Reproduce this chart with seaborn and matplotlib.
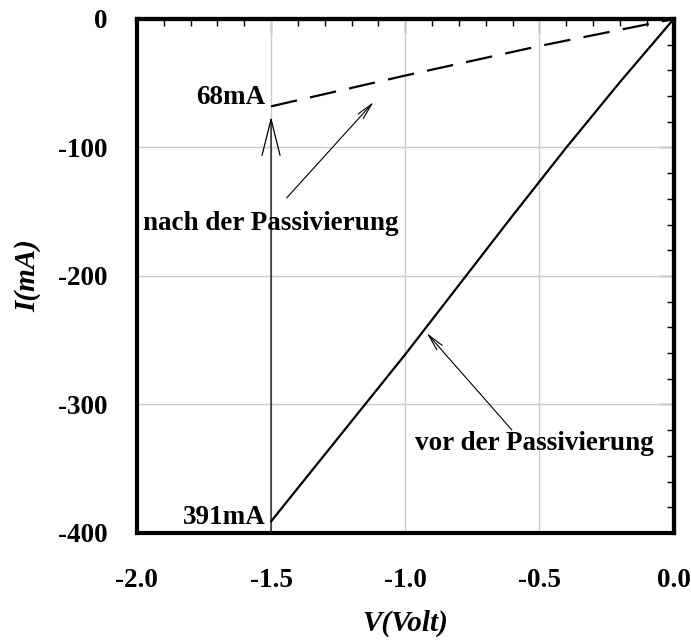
import numpy as np
import pandas as pd
import matplotlib
matplotlib.use("Agg")
import matplotlib.pyplot as plt
from matplotlib.ticker import MultipleLocator, NullFormatter
import seaborn as sns

# I-V curves before / after passivation
v_vor = [-1.5, -1.2, -1.0, -0.8, -0.6, -0.4, -0.2, 0.0]
i_vor = [-391, -313, -261, -207, -153, -100, -49, 0]
v_nach = [-1.5, -1.0, -0.5, 0.0]
i_nach = [-68, -44, -21, 0]

x_ticks = [-2.0, -1.5, -1.0, -0.5, 0.0]
y_ticks = [0, -100, -200, -300, -400]

df = pd.concat([
    pd.DataFrame({"V": v_vor, "I": i_vor, "Zustand": "vor"}),
    pd.DataFrame({"V": v_nach, "I": i_nach, "Zustand": "nach"}),
])

sns.set_style("white")
plt.rcParams['font.family'] = ['Liberation Serif', 'DejaVu Serif']
plt.rcParams['font.weight'] = 'bold'
plt.rcParams['text.color'] = 'black'
plt.rcParams['axes.labelcolor'] = 'black'
plt.rcParams['xtick.labelcolor'] = 'black'
plt.rcParams['ytick.labelcolor'] = 'black'

fig = plt.figure(figsize=(6.91, 6.44), dpi=100)
ax = fig.add_axes([0.198, 0.1724, 0.777, 0.7981])

sns.lineplot(data=df, x="V", y="I", hue="Zustand", style="Zustand",
             palette={"vor": "black", "nach": "black"},
             dashes={"vor": "", "nach": (12, 6)},
             linewidth=1.6, legend=False, ax=ax, sort=False)

ax.set_xlim(-2.0, 0.0)
ax.set_ylim(-400, 0)
ax.set_xticks(x_ticks)
ax.set_yticks(y_ticks)
ax.set_xticklabels([f"{t:.1f}" for t in x_ticks])
ax.set_yticklabels([str(t) for t in y_ticks])
ax.xaxis.set_minor_locator(MultipleLocator(0.1))
ax.yaxis.set_minor_locator(MultipleLocator(20))

ax.grid(True, which='major', color='#cccccc', linewidth=1)
for s in ax.spines.values():
    s.set_linewidth(3)
    s.set_color('black')

ax.tick_params(which='major', direction='inout', length=20, width=1,
               color='#555555', labelsize=19.5, labelcolor='black')
ax.tick_params(axis='x', which='major', pad=15)
ax.tick_params(axis='y', which='major', pad=11)
ax.tick_params(which='minor', direction='in', length=5, width=1, color='black')
for lab in ax.get_xticklabels() + ax.get_yticklabels():
    lab.set_fontweight('bold')

# inward-only ticks on top and right
top = ax.secondary_xaxis('top')
top.set_xticks(x_ticks)
top.xaxis.set_minor_locator(MultipleLocator(0.1))
top.xaxis.set_major_formatter(NullFormatter())
top.tick_params(which='major', direction='in', length=10, width=1, color='#555555')
top.tick_params(which='minor', direction='in', length=5, width=1, color='black')
top.spines['top'].set_linewidth(3)

right = ax.secondary_yaxis('right')
right.set_yticks(y_ticks)
right.yaxis.set_minor_locator(MultipleLocator(20))
right.yaxis.set_major_formatter(NullFormatter())
right.tick_params(which='major', direction='in', length=10, width=1, color='#555555')
right.tick_params(which='minor', direction='in', length=5, width=1, color='black')
right.spines['right'].set_linewidth(3)

ax.set_xlabel("V(Volt)", fontsize=21, fontweight='bold', style='italic', labelpad=12)
ax.set_ylabel("I(mA)", fontsize=21, fontweight='bold', style='italic', labelpad=12)

# vertical arrow from 391mA to 68mA
ax.annotate("", xy=(-1.5, -76), xytext=(-1.5, -400),
            arrowprops=dict(arrowstyle="->,head_length=2.6,head_width=0.65",
                            color='black', lw=0.9, shrinkA=0, shrinkB=0))
ax.text(-1.52, -61, "68mA", ha='right', va='center', fontsize=19.5, fontweight='bold')
ax.text(-1.52, -388, "391mA", ha='right', va='center', fontsize=19.5, fontweight='bold')

ax.text(-1.978, -159, "nach der Passivierung", ha='left', va='center',
        fontsize=19.5, fontweight='bold')
ax.annotate("", xy=(-1.118, -64.6), xytext=(-1.442, -139.3),
            arrowprops=dict(arrowstyle="->,head_length=1.2,head_width=0.25",
                            color='black', lw=0.8, shrinkA=0, shrinkB=0))

ax.text(-0.964, -330, "vor der Passivierung", ha='left', va='center',
        fontsize=19.5, fontweight='bold')
ax.annotate("", xy=(-0.92, -244.4), xytext=(-0.603, -319.8),
            arrowprops=dict(arrowstyle="->,head_length=1.2,head_width=0.25",
                            color='black', lw=0.8, shrinkA=0, shrinkB=0))

fig.savefig("out.png", dpi=100)
